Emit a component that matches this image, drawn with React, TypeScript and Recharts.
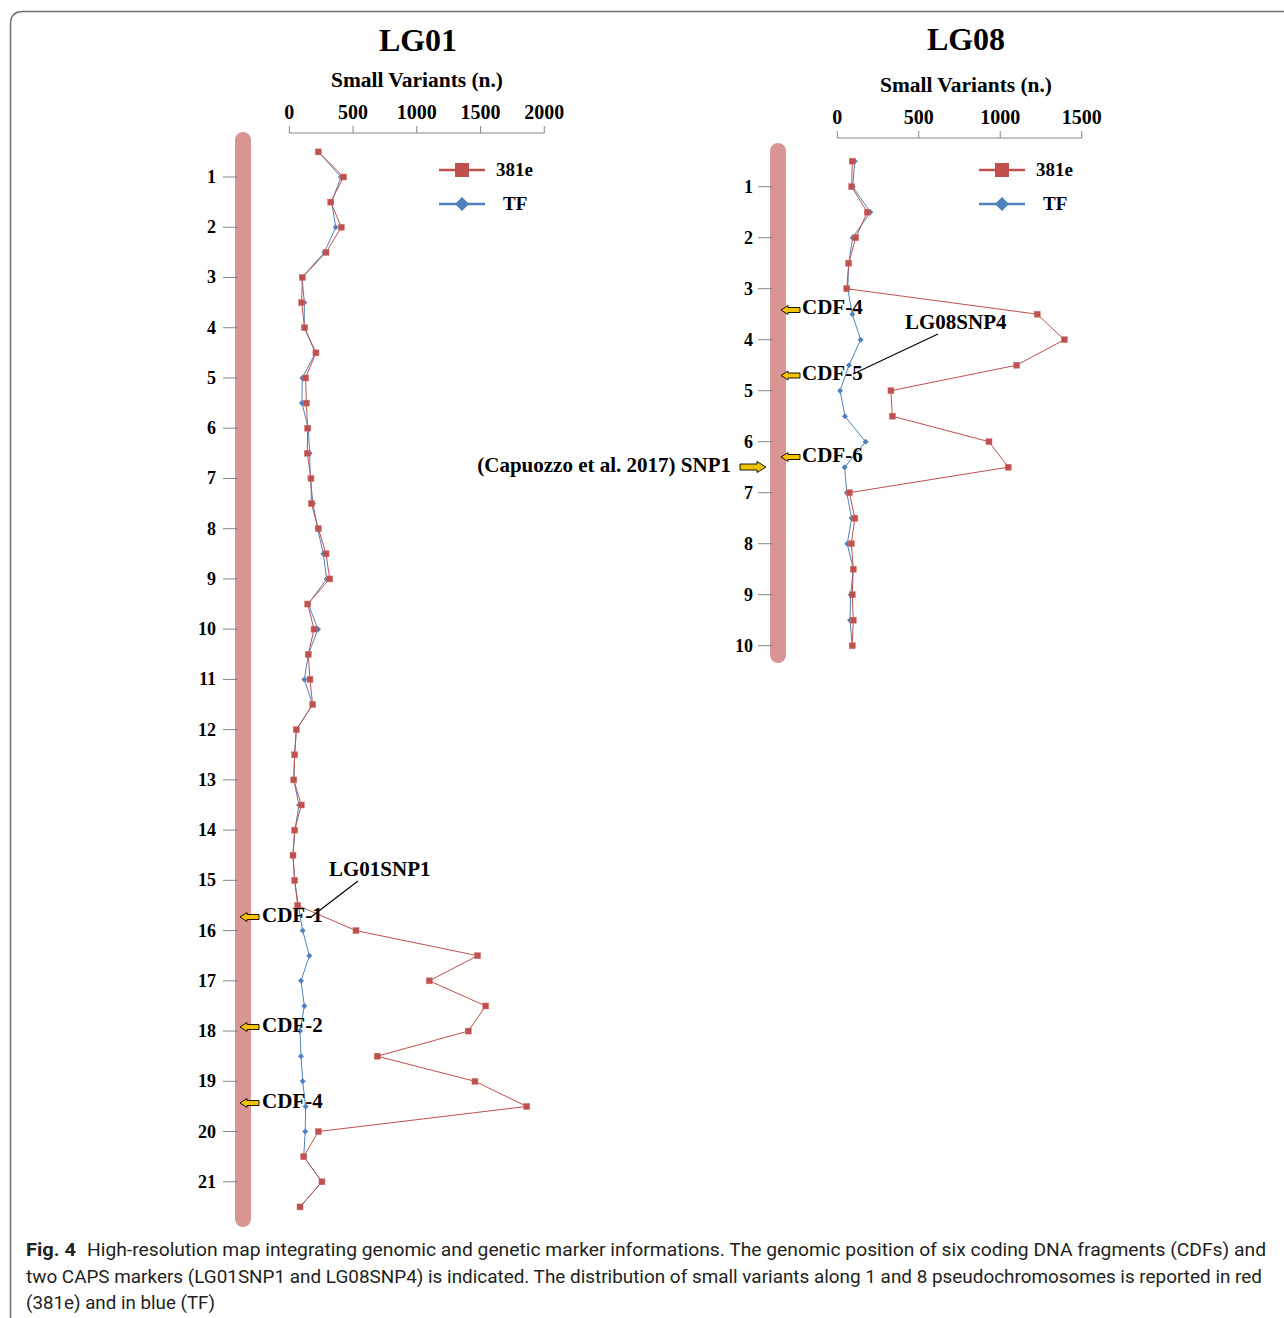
import React from 'react';
import { LineChart, Line, XAxis, YAxis } from 'recharts';

// ---------- data ----------
const LG01_POS = [0.5, 1, 1.5, 2, 2.5, 3, 3.5, 4, 4.5, 5, 5.5, 6, 6.5, 7, 7.5, 8, 8.5, 9, 9.5, 10, 10.5, 11, 11.5, 12, 12.5, 13, 13.5, 14, 14.5, 15, 15.5, 16, 16.5, 17, 17.5, 18, 18.5, 19, 19.5, 20, 20.5, 21, 21.5];
const LG01_381E = [228, 426, 325, 408, 288, 102, 97, 120, 209, 128, 134, 144, 141, 170, 173, 228, 288, 317, 144, 194, 149, 162, 183, 55, 42, 35, 94, 42, 29, 42, 66, 523, 1477, 1098, 1540, 1404, 690, 1456, 1862, 228, 113, 256, 84];
const LG01_TF = [228, 405, 332, 364, 275, 100, 118, 117, 205, 102, 99, 149, 160, 165, 186, 222, 267, 293, 149, 225, 149, 118, 183, 55, 42, 35, 76, 44, 29, 42, 71, 105, 157, 92, 118, 84, 92, 105, 128, 125, 113, 256, 84];
const LG01_XTICKS = [0, 500, 1000, 1500, 2000];
const LG01_YTICKS = [1, 2, 3, 4, 5, 6, 7, 8, 9, 10, 11, 12, 13, 14, 15, 16, 17, 18, 19, 20, 21];

const LG08_POS = [0.5, 1, 1.5, 2, 2.5, 3, 3.5, 4, 4.5, 5, 5.5, 6, 6.5, 7, 7.5, 8, 8.5, 9, 9.5, 10];
const LG08_381E = [92, 88, 184, 113, 70, 58, 1227, 1393, 1101, 329, 338, 931, 1049, 74, 108, 86, 98, 92, 98, 92];
const LG08_TF = [107, 95, 203, 94, 70, 64, 92, 143, 72, 17, 47, 174, 45, 58, 88, 61, 98, 82, 78, 92];
const LG08_XTICKS = [0, 500, 1000, 1500];
const LG08_YTICKS = [1, 2, 3, 4, 5, 6, 7, 8, 9, 10];

const SERIES_NAMES = ['381e', 'TF'];
const LG01_CDF_LABELS = ['CDF-1', 'CDF-2', 'CDF-4'];
const LG08_CDF_LABELS = ['CDF-4', 'CDF-5', 'CDF-6'];

const CAPTION_BOLD = 'Fig. 4';
const CAPTION_LINES = [
  'High-resolution map integrating genomic and genetic marker informations. The genomic position of six coding DNA fragments (CDFs) and',
  'two CAPS markers (LG01SNP1 and LG08SNP4) is indicated. The distribution of small variants along 1 and 8 pseudochromosomes is reported in red',
  '(381e) and in blue (TF)',
];

// ---------- style ----------
const W = 1284;
const H = 1318;
const SERIF = '"Liberation Serif", "Times New Roman", serif';
const SANS = 'Roboto, "Open Sans", sans-serif';
const RED = '#c0504d';
const BLUE = '#4f81bd';
const CHROM = '#d99594';
const AXIS = '#868686';
const ARROW_FILL = '#f2c200';

const lg01Data = LG01_POS.map((p, i) => ({ pos: p, e381: LG01_381E[i], tf: LG01_TF[i] }));
const lg08Data = LG08_POS.map((p, i) => ({ pos: p, e381: LG08_381E[i], tf: LG08_TF[i] }));

function SquareDot(props: any) {
  const { cx, cy, index } = props;
  if (cx == null || cy == null) return <g key={`s${index}`} />;
  return <rect key={`s${index}`} x={cx - 3} y={cy - 3} width={6} height={6} fill={RED} stroke="#cf7370" strokeWidth={0.5} />;
}

function DiamondDot(props: any) {
  const { cx, cy, index } = props;
  if (cx == null || cy == null) return <g key={`d${index}`} />;
  return <path key={`d${index}`} d={`M${cx},${cy - 3} L${cx + 3},${cy} L${cx},${cy + 3} L${cx - 3},${cy} Z`} fill={BLUE} />;
}

function makeYTick(x1: number, x2: number, labelX: number) {
  return (props: any) => {
    const { y, payload } = props;
    return (
      <g>
        <line x1={x1} x2={x2} y1={y} y2={y} stroke={AXIS} strokeWidth={1} />
        <text x={labelX} y={y} dy={6} textAnchor="end" fontFamily={SERIF} fontWeight="bold" fontSize={18} fill="#000">
          {payload.value}
        </text>
      </g>
    );
  };
}

function Panel(props: any) {
  const { data, margin, xDomain, xTicks, yDomain, yTicks, yTick } = props;
  return (
    <div style={{ position: 'absolute', left: 0, top: 0 }}>
      <LineChart width={W} height={H} data={data} layout="vertical" margin={margin}>
        <XAxis
          type="number"
          orientation="top"
          domain={xDomain}
          ticks={xTicks}
          interval={0}
          height={30}
          tickSize={7}
          tickMargin={7}
          stroke={AXIS}
          allowDataOverflow
          tick={{ fontFamily: SERIF, fontWeight: 'bold', fontSize: 20, fill: '#000' }}
        />
        <YAxis
          type="number"
          dataKey="pos"
          domain={yDomain}
          ticks={yTicks}
          interval={0}
          width={60}
          axisLine={false}
          tickLine={false}
          allowDataOverflow
          tick={yTick}
        />
        <Line dataKey="tf" stroke={BLUE} strokeWidth={1} dot={DiamondDot} activeDot={false} isAnimationActive={false} />
        <Line dataKey="e381" stroke={RED} strokeWidth={1} dot={SquareDot} activeDot={false} isAnimationActive={false} />
      </LineChart>
    </div>
  );
}

function LeftArrow({ tip, cy }: { tip: number; cy: number }) {
  const d = `M${tip},${cy} L${tip + 7},${cy - 4.5} L${tip + 7},${cy - 2.5} L${tip + 19},${cy - 2.5} L${tip + 19},${cy + 2.5} L${tip + 7},${cy + 2.5} L${tip + 7},${cy + 4.5} Z`;
  return <path d={d} fill={ARROW_FILL} stroke="#000" strokeWidth={0.9} />;
}

function RightArrow({ tail, cy }: { tail: number; cy: number }) {
  const d = `M${tail},${cy - 3} L${tail + 17},${cy - 3} L${tail + 17},${cy - 5.5} L${tail + 26},${cy} L${tail + 17},${cy + 5.5} L${tail + 17},${cy + 3} L${tail},${cy + 3} Z`;
  return <path d={d} fill={ARROW_FILL} stroke="#000" strokeWidth={0.9} />;
}

function LegendBox({ x, y }: { x: number; y: number }) {
  return (
    <g>
      <line x1={x} x2={x + 46} y1={y} y2={y} stroke={RED} strokeWidth={2.5} />
      <rect x={x + 16} y={y - 7} width={14} height={14} fill={RED} />
      <text x={x + 57} y={y + 6} fontFamily={SERIF} fontWeight="bold" fontSize={19}>{SERIES_NAMES[0]}</text>
      <line x1={x} x2={x + 46} y1={y + 34} y2={y + 34} stroke={BLUE} strokeWidth={2.5} />
      <path d={`M${x + 23},${y + 27} L${x + 30},${y + 34} L${x + 23},${y + 41} L${x + 16},${y + 34} Z`} fill={BLUE} />
      <text x={x + 64} y={y + 40} fontFamily={SERIF} fontWeight="bold" fontSize={19}>{SERIES_NAMES[1]}</text>
    </g>
  );
}

const txt = { fontFamily: SERIF, fontWeight: 'bold' as const, fill: '#000' };

export default function App() {
  const lg01Tick = makeYTick(223, 238, 216);
  const lg08Tick = makeYTick(758, 773, 753);
  return (
    <div style={{ position: 'absolute', left: 0, top: 0, width: W, height: H, background: '#fff', overflow: 'hidden' }}>
      {/* underlay */}
      <svg width={W} height={H} style={{ position: 'absolute', left: 0, top: 0 }}>
        <path d={`M10.5,${H} V24 Q10.5,11.5 23,11.5 H${W}`} fill="none" stroke="#6e6e6e" strokeWidth={1.5} />
        <rect x={235} y={132} width={16} height={1095} rx={8} fill={CHROM} />
        <rect x={770} y={143} width={16} height={520} rx={8} fill={CHROM} />
      </svg>

      <Panel
        data={lg01Data}
        margin={{ top: 103, left: 229.3, right: W - 544.3, bottom: H - 1227 }}
        xDomain={[0, 2000]}
        xTicks={LG01_XTICKS}
        yDomain={[0.124, 21.9]}
        yTicks={LG01_YTICKS}
        yTick={lg01Tick}
      />
      <Panel
        data={lg08Data}
        margin={{ top: 108, left: 777.3, right: W - 1081.7, bottom: H - 671.2 }}
        xDomain={[0, 1500]}
        xTicks={LG08_XTICKS}
        yDomain={[0.045, 10.5]}
        yTicks={LG08_YTICKS}
        yTick={lg08Tick}
      />

      {/* overlay */}
      <svg width={W} height={H} style={{ position: 'absolute', left: 0, top: 0, pointerEvents: 'none' }}>
        <text x={418} y={51} textAnchor="middle" fontSize={32} {...txt}>LG01</text>
        <text x={966} y={50} textAnchor="middle" fontSize={32} {...txt}>LG08</text>
        <text x={417} y={87} textAnchor="middle" fontSize={20} textLength={172} lengthAdjust="spacingAndGlyphs" {...txt}>Small Variants (n.)</text>
        <text x={966} y={92} textAnchor="middle" fontSize={20} textLength={172} lengthAdjust="spacingAndGlyphs" {...txt}>Small Variants (n.)</text>

        <LegendBox x={439} y={170} />
        <LegendBox x={979} y={170} />

        {/* LG01 annotations */}
        <LeftArrow tip={240} cy={917} />
        <text x={262} y={922} fontSize={21} {...txt}>{LG01_CDF_LABELS[0]}</text>
        <LeftArrow tip={240} cy={1027} />
        <text x={262} y={1032} fontSize={21} {...txt}>{LG01_CDF_LABELS[1]}</text>
        <LeftArrow tip={240} cy={1103} />
        <text x={262} y={1108} fontSize={21} {...txt}>{LG01_CDF_LABELS[2]}</text>
        <text x={329} y={876} fontSize={21} {...txt}>LG01SNP1</text>
        <line x1={358} y1={881} x2={311} y2={917} stroke="#000" strokeWidth={1.2} />

        {/* LG08 annotations */}
        <LeftArrow tip={781} cy={310} />
        <text x={802} y={314} fontSize={21} {...txt}>{LG08_CDF_LABELS[0]}</text>
        <LeftArrow tip={781} cy={375.5} />
        <text x={802} y={380} fontSize={21} {...txt}>{LG08_CDF_LABELS[1]}</text>
        <LeftArrow tip={781} cy={457} />
        <text x={802} y={462} fontSize={21} {...txt}>{LG08_CDF_LABELS[2]}</text>
        <text x={905} y={329} fontSize={21} {...txt}>LG08SNP4</text>
        <line x1={938} y1={334} x2={853} y2={374} stroke="#000" strokeWidth={1.2} />
        <text x={731} y={472} textAnchor="end" fontSize={21} {...txt}>(Capuozzo et al. 2017) SNP1</text>
        <RightArrow tail={740} cy={467} />

        {/* caption */}
        <text x={26} y={1256} fontFamily={SANS} fontWeight="bold" fontSize={18} textLength={50} lengthAdjust="spacingAndGlyphs" fill="#231f20">{CAPTION_BOLD}</text>
        <text x={87} y={1256} fontFamily={SANS} fontSize={18} textLength={1179} lengthAdjust="spacingAndGlyphs" fill="#231f20">{CAPTION_LINES[0]}</text>
        <text x={26} y={1283} fontFamily={SANS} fontSize={18} textLength={1236} lengthAdjust="spacingAndGlyphs" fill="#231f20">{CAPTION_LINES[1]}</text>
        <text x={26} y={1309} fontFamily={SANS} fontSize={18} textLength={189} lengthAdjust="spacingAndGlyphs" fill="#231f20">{CAPTION_LINES[2]}</text>
      </svg>
    </div>
  );
}
